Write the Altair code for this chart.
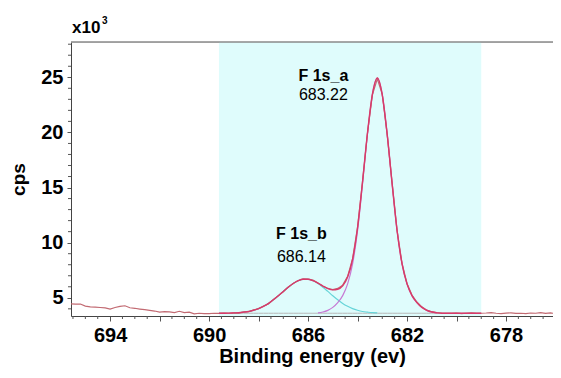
import altair as alt
import pandas as pd

# ---------------- data ----------------
# fitted region (binding energy, eV) and components (x10^3 cps)
fit_e = [689.6, 689.4, 689.2, 689.0, 688.8, 688.6, 688.4, 688.2, 688.0, 687.8,
         687.6, 687.4, 687.2, 687.0, 686.8, 686.6, 686.4, 686.2, 686.0, 685.8,
         685.6, 685.4, 685.2, 685.0, 684.8, 684.6, 684.4, 684.2, 684.0, 683.8,
         683.6, 683.4, 683.2, 683.0, 682.8, 682.6, 682.4, 682.2, 682.0, 681.8,
         681.6, 681.4, 681.2, 681.0, 680.8, 680.6, 680.4, 680.2, 680.0, 679.8,
         679.6, 679.4, 679.2, 679.0]
comp_b = [0.0, 0.0, 0.01, 0.03, 0.05, 0.10, 0.16, 0.27, 0.42, 0.63,
          0.89, 1.22, 1.59, 1.98, 2.36, 2.70, 2.95, 3.08, 3.08, 2.95,
          2.70, 2.36, 1.98, 1.59, 1.22, 0.89, 0.63, 0.42, 0.27, 0.16,
          0.10, 0.05, 0.03, 0.01, 0.0, 0.0, 0.0, 0.0, 0.0, 0.0,
          0.0, 0.0, 0.0, 0.0, 0.0, 0.0, 0.0, 0.0, 0.0, 0.0,
          0.0, 0.0, 0.0, 0.0]
comp_a = [0.0, 0.0, 0.0, 0.0, 0.0, 0.0, 0.0, 0.0, 0.0, 0.0,
          0.0, 0.0, 0.0, 0.0, 0.0, 0.0, 0.0, 0.0, 0.0, 0.0,
          0.04, 0.11, 0.26, 0.53, 0.96, 1.60, 2.66, 4.47, 7.46, 11.7,
          16.2, 19.8, 21.3, 19.8, 16.2, 11.7, 7.46, 4.47, 2.66, 1.60,
          0.96, 0.53, 0.26, 0.11, 0.04, 0.0, 0.0, 0.0, 0.0, 0.0,
          0.0, 0.0, 0.0, 0.0]
background = [3.6] * 54

# measured spectrum
data_e = [695.6, 695.4, 695.2, 695.0, 694.8, 694.6, 694.4, 694.2, 694.0, 693.8,
          693.6, 693.4, 693.2, 693.0, 692.8, 692.6, 692.4, 692.2, 692.0, 691.8,
          691.6, 691.4, 691.2, 691.0, 690.8, 690.6, 690.4, 690.2, 690.0, 689.8,
          689.6, 689.4, 689.2, 689.0, 688.8, 688.6, 688.4, 688.2, 688.0, 687.8,
          687.6, 687.4, 687.2, 687.0, 686.8, 686.6, 686.4, 686.2, 686.0, 685.8,
          685.6, 685.4, 685.2, 685.0, 684.8, 684.6, 684.4, 684.2, 684.0, 683.8,
          683.6, 683.4, 683.2, 683.0, 682.8, 682.6, 682.4, 682.2, 682.0, 681.8,
          681.6, 681.4, 681.2, 681.0, 680.8, 680.6, 680.4, 680.2, 680.0, 679.8,
          679.6, 679.4, 679.2, 679.0, 678.8, 678.6, 678.4, 678.2, 678.0, 677.8,
          677.6, 677.4, 677.2, 677.0, 676.8, 676.6, 676.4, 676.2, 676.0, 675.8,
          675.6]
data_cps = [4.45, 4.42, 4.44, 4.25, 4.18, 4.15, 4.12, 4.08, 3.98, 4.12,
            4.22, 4.28, 4.10, 4.05, 3.98, 3.92, 3.86, 3.80, 3.70, 3.74,
            3.72, 3.66, 3.78, 3.66, 3.70, 3.55, 3.60, 3.57, 3.56, 3.60,
            3.58, 3.62, 3.60, 3.64, 3.62, 3.72, 3.74, 3.90, 4.02, 4.25,
            4.45, 4.85, 5.20, 5.55, 5.98, 6.30, 6.55, 6.72, 6.70, 6.60,
            6.35, 6.05, 5.85, 5.75, 5.85, 6.15, 6.95, 8.55, 11.4, 15.5,
            19.9, 23.4, 24.85, 23.45, 19.8, 15.4, 11.1, 8.1, 6.3, 5.25,
            4.62, 4.18, 3.88, 3.74, 3.66, 3.62, 3.60, 3.58, 3.62, 3.57,
            3.60, 3.63, 3.58, 3.60, 3.62, 3.66, 3.60, 3.57, 3.61, 3.64,
            3.58, 3.60, 3.56, 3.62, 3.60, 3.66, 3.59, 3.63, 3.57, 3.60,
            3.58]

region_start = [689.6]
region_end = [679.0]

peak_names = ["F 1s_a", "F 1s_b"]
peak_values = ["683.22", "686.14"]
label_e = [685.38, 686.27]
name_y = [25.15, 10.75]
value_y = [23.35, 8.7]

x_major = [694, 692, 690, 688, 686, 684, 682, 680, 678]
x_minor = [695.5, 695.0, 694.5, 693.5, 693.0, 692.5, 691.5, 691.0, 690.5,
           689.5, 689.0, 688.5, 687.5, 687.0, 686.5, 685.5, 685.0, 684.5,
           683.5, 683.0, 682.5, 681.5, 681.0, 680.5, 679.5, 679.0, 678.5,
           677.5, 677.0, 676.5]
y_major = [5, 10, 15, 20, 25]
y_minor = [4, 6, 7, 8, 9, 11, 12, 13, 14, 16, 17, 18, 19, 21, 22, 23, 24, 26, 27, 28]
unit_base = ["x10"]
unit_exp = ["3"]

# ---------------- chart ----------------
W, H = 482, 274
FONT = "Liberation Sans"

xscale = alt.Scale(domain=[695.58, 676.1], nice=False, zero=False)
yscale = alt.Scale(domain=[3.35, 28.2], nice=False, zero=False)

xaxis = alt.Axis(values=x_major, labelExpr="datum.value % 4 == 2 ? datum.label : ''",
                 title="Binding energy (ev)", grid=False, tickSize=5, tickColor="#555",
                 domainColor="#444", labelFont=FONT, labelFontSize=20, labelFontWeight="bold",
                 labelColor="black", labelPadding=4, titleFont=FONT, titleFontSize=20,
                 titleFontWeight="bold", titleColor="black", titlePadding=1)
yaxis = alt.Axis(values=y_major, title="cps", grid=False, tickSize=4, tickColor="#555",
                 domainColor="#444", labelFont=FONT, labelFontSize=20, labelFontWeight="bold",
                 labelColor="black", labelPadding=4, titleFont=FONT, titleFontSize=19,
                 titleFontWeight="bold", titleColor="black", titlePadding=12)

X = alt.X("e:Q", scale=xscale, axis=xaxis)
Y = alt.Y("v:Q", scale=yscale, axis=yaxis)

df_fit = pd.DataFrame({"e": fit_e, "a": comp_a, "b": comp_b, "bg": background})
df_data = pd.DataFrame({"e": data_e, "v": data_cps})
df_region = pd.DataFrame({"e": region_start, "e2": region_end})
df_lab = pd.DataFrame({"e": label_e, "name": peak_names, "val": peak_values,
                       "ny": name_y, "vy": value_y})

region = alt.Chart(df_region).mark_rect(color="#dffcfc").encode(
    x=X, x2="e2:Q", y=alt.value(0), y2=alt.value(H))

top_line = alt.Chart(pd.DataFrame({"t": unit_base})).mark_rule(
    color="#8a8a8a", strokeWidth=1.5).encode(x=alt.value(0), x2=alt.value(W), y=alt.value(0))

xminor = alt.Chart(pd.DataFrame({"e": x_minor})).mark_rule(color="#555").encode(
    x=X, y=alt.value(H), y2=alt.value(H + 3))
yminor = alt.Chart(pd.DataFrame({"v": y_minor})).mark_rule(color="#555").encode(
    y=Y, x=alt.value(-3), x2=alt.value(0))

bg_line = alt.Chart(df_fit).transform_calculate(v="datum.bg").mark_line(
    color="#b8b8b8", strokeWidth=1).encode(x=X, y=Y)

line_b = alt.Chart(df_fit).transform_filter("datum.b > 0.02").transform_calculate(
    v="datum.bg + datum.b").mark_line(color="#66d4d8", strokeWidth=1.2,
                                      interpolate="monotone").encode(x=X, y=Y)
line_a = alt.Chart(df_fit).transform_filter("datum.a > 0.02").transform_calculate(
    v="datum.bg + datum.a").mark_line(color="#c779d4", strokeWidth=1.2,
                                      interpolate="monotone").encode(x=X, y=Y)

data_line = alt.Chart(df_data).mark_line(color="#c26a72", strokeWidth=1.2,
                                         clip=True).encode(x=X, y=Y)

envelope = alt.Chart(df_fit).transform_calculate(
    v="datum.bg + datum.a + datum.b").mark_line(color="#d83a6a", strokeWidth=1.4,
                                                interpolate="monotone").encode(x=X, y=Y)

names = alt.Chart(df_lab).transform_calculate(v="datum.ny").mark_text(
    font=FONT, fontSize=16, fontWeight="bold", color="black", baseline="middle",
    align="center").encode(x=X, y=Y, text="name:N")
vals = alt.Chart(df_lab).transform_calculate(v="datum.vy").mark_text(
    font=FONT, fontSize=16, color="black", baseline="middle",
    align="center").encode(x=X, y=Y, text="val:N")

unit = alt.Chart(pd.DataFrame({"t": unit_base})).mark_text(
    font=FONT, fontSize=17, fontWeight="bold", color="black", align="left",
    baseline="alphabetic").encode(x=alt.value(1), y=alt.value(-9), text="t:N")
unit_sup = alt.Chart(pd.DataFrame({"t": unit_exp})).mark_text(
    font=FONT, fontSize=10, fontWeight="bold", color="black", align="left",
    baseline="alphabetic").encode(x=alt.value(31), y=alt.value(-18), text="t:N")

chart = alt.layer(region, top_line, xminor, yminor, bg_line, line_b, line_a,
                  data_line, envelope, names, vals, unit, unit_sup).properties(
    width=W, height=H,
    padding={"left": 63, "top": 34, "right": 0, "bottom": 54},
    autosize=alt.AutoSizeParams(type="none"),
).configure_view(stroke=None).configure(background="white")

chart.save("out.html", embed_options={"renderer": "svg", "actions": False})
